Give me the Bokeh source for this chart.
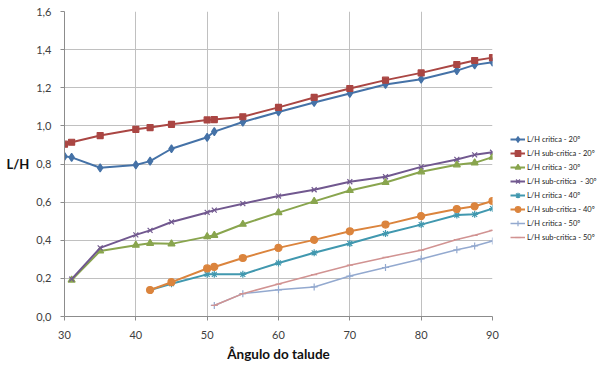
from bokeh.plotting import figure
from bokeh.layouts import row
from bokeh.models import CustomJSTickFormatter, FixedTicker, Legend, LegendItem
from bokeh.embed import file_html
from bokeh.resources import INLINE

# --- data ---
x20 = [30, 31, 35, 40, 42, 45, 50, 51, 55, 60, 65, 70, 75, 80, 85, 87.5, 90]
crit20 = [0.84, 0.835, 0.78, 0.795, 0.815, 0.88, 0.94, 0.97, 1.02, 1.073, 1.123, 1.17, 1.217, 1.245, 1.29, 1.32, 1.334]
sub20 = [0.904, 0.914, 0.949, 0.982, 0.991, 1.008, 1.031, 1.033, 1.048, 1.097, 1.149, 1.196, 1.24, 1.278, 1.322, 1.343, 1.358]

x30 = [31, 35, 40, 42, 45, 50, 51, 55, 60, 65, 70, 75, 80, 85, 87.5, 90]
crit30 = [0.191, 0.344, 0.374, 0.384, 0.381, 0.419, 0.426, 0.484, 0.545, 0.604, 0.661, 0.703, 0.759, 0.796, 0.806, 0.836]
sub30 = [0.196, 0.36, 0.428, 0.452, 0.496, 0.546, 0.558, 0.592, 0.632, 0.665, 0.707, 0.733, 0.785, 0.824, 0.848, 0.862]

x40 = [42, 45, 50, 51, 55, 60, 65, 70, 75, 80, 85, 87.5, 90]
crit40 = [0.139, 0.172, 0.221, 0.221, 0.221, 0.281, 0.334, 0.383, 0.435, 0.482, 0.532, 0.536, 0.566]
sub40 = [0.139, 0.18, 0.252, 0.26, 0.307, 0.36, 0.402, 0.447, 0.482, 0.527, 0.564, 0.578, 0.606]

x50 = [51, 55, 60, 65, 70, 75, 80, 85, 87.5, 90]
crit50 = [0.058, 0.12, 0.14, 0.155, 0.212, 0.257, 0.302, 0.35, 0.37, 0.396]
sub50 = [0.058, 0.12, 0.17, 0.22, 0.269, 0.31, 0.348, 0.404, 0.426, 0.452]

x_ticks = [30, 40, 50, 60, 70, 80, 90]
y_ticks = [0.0, 0.2, 0.4, 0.6, 0.8, 1.0, 1.2, 1.4, 1.6]

series = [
    ("L/H critica - 20º", x20, crit20, "#4572A7", "diamond", 8, 2),
    ("L/H sub-critica - 20º", x20, sub20, "#AA4643", "square", 6, 2),
    ("L/H critica - 30º", x30, crit30, "#89A54E", "triangle", 7, 2),
    ("L/H sub-critica  - 30º", x30, sub30, "#71588F", "x", 7, 2),
    ("L/H critica - 40º", x40, crit40, "#4198AF", "asterisk", 7, 2),
    ("L/H sub-critica - 40º", x40, sub40, "#DB843D", "circle", 7, 2),
    ("L/H critica - 50º", x50, crit50, "#93A9CF", "cross", 7, 1.5),
    ("L/H sub-critica - 50º", x50, sub50, "#D19392", "dash", 6, 1.5),
]

FONT = "Lato"

p = figure(width=502, height=375, x_range=(30, 90), y_range=(0, 1.6),
           output_backend="svg", toolbar_location=None,
           min_border_left=64, min_border_right=10, min_border_top=11, min_border_bottom=59)
p.outline_line_color = None
p.background_fill_color = "white"
p.border_fill_color = "white"

# legend panel: a separate, axis-less figure whose range keeps its copies of the series out of view
pl = figure(width=98, height=375, x_range=(0, 1), y_range=(0, 1),
            output_backend="svg", toolbar_location=None,
            min_border_left=0, min_border_right=0, min_border_top=0, min_border_bottom=0)
pl.axis.visible = False
pl.grid.visible = False
pl.outline_line_color = None
pl.border_fill_color = "white"

items = []
for label, xs, ys, col, mk, sz, lw in series:
    p.line(xs, ys, line_color=col, line_width=lw)
    p.scatter(xs, ys, marker=mk, size=sz, line_color=col, fill_color=col, line_width=1.2)
    l1 = pl.line(xs, ys, line_color=col, line_width=lw)
    l2 = pl.scatter(xs, ys, marker=mk, size=sz, line_color=col, fill_color=col, line_width=1.2)
    items.append(LegendItem(label=label, renderers=[l1, l2]))

legend = Legend(items=items, location=(8, 72), padding=0, spacing=0, margin=0,
                glyph_width=15, glyph_height=14, label_height=14, label_standoff=2,
                label_text_font=FONT, label_text_font_size="7.5px", label_text_color="#222222",
                border_line_color=None, background_fill_alpha=0)
pl.add_layout(legend, "center")

p.xaxis.ticker = FixedTicker(ticks=x_ticks)
p.yaxis.ticker = FixedTicker(ticks=y_ticks)
p.yaxis.formatter = CustomJSTickFormatter(code="return tick.toFixed(1).replace('.', ',');")
p.xaxis.formatter = CustomJSTickFormatter(code="return tick.toFixed(0);")

for ax in (p.xaxis[0], p.yaxis[0]):
    ax.axis_line_color = "#8c8c8c"
    ax.major_tick_line_color = "#8c8c8c"
    ax.major_tick_out = 4
    ax.major_tick_in = 0
    ax.minor_tick_line_color = None
    ax.major_label_text_font = FONT
    ax.major_label_text_font_size = "11px"
    ax.major_label_text_color = "#404040"
    ax.axis_label_text_font = FONT
    ax.axis_label_text_font_style = "bold"
    ax.axis_label_text_color = "#111111"

p.xaxis.axis_label = "Ângulo do talude"
p.xaxis.axis_label_text_font_size = "13.5px"
p.xaxis.major_label_standoff = 10
p.xaxis.axis_label_standoff = 4

p.yaxis.axis_label = "L/H"
p.yaxis.axis_label_orientation = "horizontal"
p.yaxis.axis_label_text_font_size = "13px"
p.yaxis.major_label_standoff = 9
p.yaxis.axis_label_standoff = 4

p.xgrid.grid_line_color = "#c0c0c0"
p.ygrid.grid_line_color = "#c0c0c0"
p.xgrid.grid_line_width = 1
p.ygrid.grid_line_width = 1

layout = row(p, pl, spacing=0)
open("out.html", "w").write(file_html(layout, INLINE))
